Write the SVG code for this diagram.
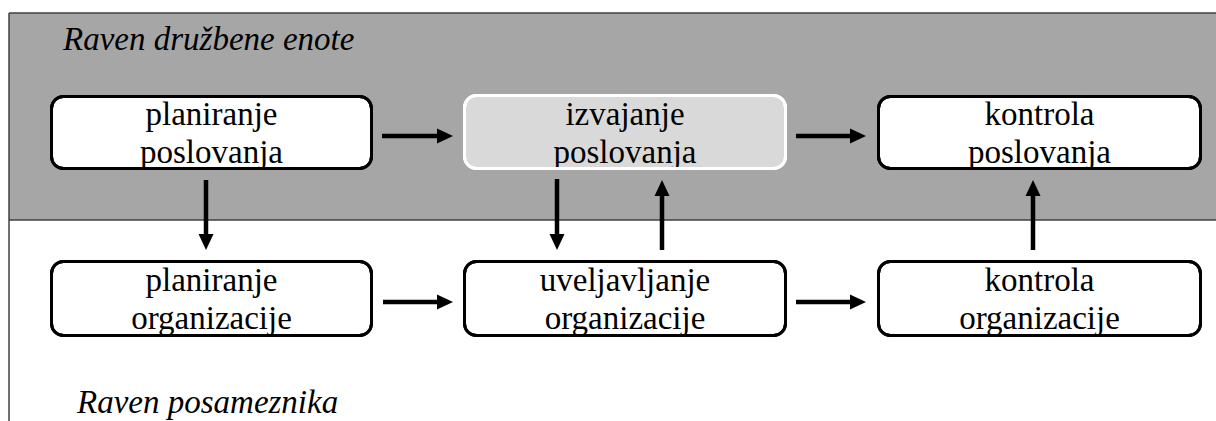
<svg xmlns="http://www.w3.org/2000/svg" width="1216" height="421" viewBox="0 0 1216 421">
  <style>
    .box { fill: #ffffff; stroke: #000000; stroke-width: 3; }
    .boxline { fill: none; stroke: #000000; stroke-width: 3; }
    .hl { fill: #d9d9d9; stroke: #ffffff; stroke-width: 3; }
    .hlline { fill: none; stroke: #ffffff; stroke-width: 3; }
    .t { font-size: 33px; fill: #000000; text-anchor: middle; }
    .lab { font-size: 33px; font-style: italic; fill: #000000; }
    .arr { stroke: #000000; stroke-width: 4.5; fill: none; marker-end: url(#ah); }
    .frame { stroke: #404040; stroke-width: 1.5; fill: none; }
  </style>
  <defs>
    <marker id="ah" markerUnits="userSpaceOnUse" markerWidth="16" markerHeight="16" refX="8" refY="8" orient="auto">
      <path d="M0,0.5 L16,8 L0,15.5 Z" fill="#000000"/>
    </marker>
  </defs>

  <g id="background">
    <rect x="9" y="13" width="1207" height="207" fill="#a6a6a6"/>
    <line class="frame" x1="9" y1="13" x2="1216" y2="13"/>
    <line class="frame" x1="9" y1="220" x2="1216" y2="220"/>
    <line class="frame" x1="9" y1="13" x2="9" y2="421" stroke-width="2"/>
  </g>

  <g font-family="Liberation Serif, Tinos, Times New Roman, DejaVu Serif, Noto Serif, serif">
  <g id="label-top">
    <text class="lab" x="63" y="50">Raven družbene enote</text>
  </g>
  <g id="label-bottom">
    <text class="lab" x="77" y="413">Raven posameznika</text>
  </g>

  <g id="node-planiranje-poslovanja">
    <rect class="box" x="51.5" y="96.5" width="320" height="72" rx="12"/>
    <text class="t" x="211.5" y="125">planiranje</text>
    <text class="t" x="211.5" y="163">poslovanja</text>
    <rect class="boxline" x="51.5" y="96.5" width="320" height="72" rx="12"/>
  </g>

  <g id="node-izvajanje-poslovanja">
    <rect class="hl" x="464.5" y="95.5" width="321" height="73" rx="12"/>
    <text class="t" x="625" y="125">izvajanje</text>
    <text class="t" x="625" y="163">poslovanja</text>
    <rect class="hlline" x="464.5" y="95.5" width="321" height="73" rx="12"/>
  </g>

  <g id="node-kontrola-poslovanja">
    <rect class="box" x="878.5" y="96.5" width="322" height="72" rx="12"/>
    <text class="t" x="1039.5" y="125">kontrola</text>
    <text class="t" x="1039.5" y="163">poslovanja</text>
    <rect class="boxline" x="878.5" y="96.5" width="322" height="72" rx="12"/>
  </g>

  <g id="node-planiranje-organizacije">
    <rect class="box" x="51.5" y="261.5" width="320" height="74" rx="12"/>
    <text class="t" x="211.5" y="291">planiranje</text>
    <text class="t" x="211.5" y="329">organizacije</text>
    <rect class="boxline" x="51.5" y="261.5" width="320" height="74" rx="12"/>
  </g>

  <g id="node-uveljavljanje-organizacije">
    <rect class="box" x="464.5" y="261.5" width="321" height="74" rx="12"/>
    <text class="t" x="625" y="291">uveljavljanje</text>
    <text class="t" x="625" y="329">organizacije</text>
    <rect class="boxline" x="464.5" y="261.5" width="321" height="74" rx="12"/>
  </g>

  <g id="node-kontrola-organizacije">
    <rect class="box" x="878.5" y="261.5" width="322" height="74" rx="12"/>
    <text class="t" x="1039.5" y="291">kontrola</text>
    <text class="t" x="1039.5" y="329">organizacije</text>
    <rect class="boxline" x="878.5" y="261.5" width="322" height="74" rx="12"/>
  </g>
  </g>

  <g id="connectors">
    <line class="arr" x1="382" y1="136" x2="445" y2="136"/>
    <line class="arr" x1="796" y1="136" x2="858" y2="136"/>
    <line class="arr" x1="383" y1="302" x2="445" y2="302"/>
    <line class="arr" x1="796" y1="302" x2="858" y2="302"/>
    <line class="arr" x1="206" y1="180" x2="206" y2="242"/>
    <line class="arr" x1="557" y1="179" x2="557" y2="242"/>
    <line class="arr" x1="662" y1="250" x2="662" y2="188"/>
    <line class="arr" x1="1033" y1="250" x2="1033" y2="188"/>
  </g>
</svg>
